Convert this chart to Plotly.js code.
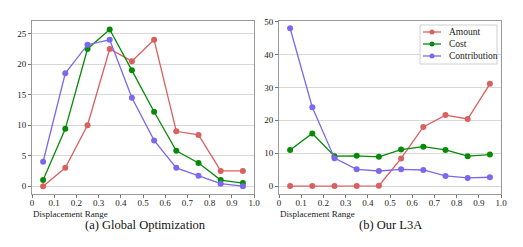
<!DOCTYPE html>
<html><head><meta charset="utf-8">
<script src="https://cdn.plot.ly/plotly-3.0.1.min.js"></script>
<style>html,body{margin:0;padding:0;background:#fff}#c{width:523px;height:247px}</style>
</head><body><div id="c"></div>
<script>
const xVals = [0.05,0.15,0.25,0.35,0.45,0.55,0.65,0.75,0.85,0.95];
const xTickVals = [0,0.1,0.2,0.3,0.4,0.5,0.6,0.7,0.8,0.9,1.0];
const xTickText = ["0","0.1","0.2","0.3","0.4","0.5","0.6","0.7","0.8","0.9","1.0"];
const seriesNames = ["Amount","Cost","Contribution"];
// (a) Global Optimization
const globalAmount = [0,3,10,22.5,20.5,24,9,8.4,2.5,2.5];
const globalCost = [1,9.4,22.5,25.7,19,12.2,5.8,3.8,1,0.5];
const globalContribution = [4,18.5,23.2,24,14.5,7.5,3,1.7,0.4,0];
// (b) Our L3A
const l3aAmount = [0,0,0,0,0.1,8.4,18,21.6,20.4,31.1];
const l3aCost = [11,16,9.1,9.2,8.9,11.1,12,11,9.1,9.6];
const l3aContribution = [48,24,8.5,5.1,4.6,5.1,4.9,3.1,2.5,2.7];
const leftYTicks = [0,5,10,15,20,25];
const rightYTicks = [0,10,20,30,40,50];
const captions = ["(a) Global Optimization","(b) Our L3A"];
const xLabel = "Displacement Range";

const colors = ["#d9605f","#078a07","#7b68ee"];
const serif = "Liberation Serif, Times New Roman, serif";
const W=523,H=247;
const px = v => v/W, py = v => 1-v/H;

function tr(y, i, xa, ya){
  return {x:xVals, y:y, type:'scatter', mode:'lines+markers', name:seriesNames[i],
    xaxis:xa, yaxis:ya, showlegend:false,
    line:{color:colors[i], width:1.3}, marker:{color:colors[i], size:6}};
}
const data = [
  tr(globalAmount,0,'x','y'), tr(globalCost,1,'x','y'), tr(globalContribution,2,'x','y'),
  tr(l3aAmount,0,'x2','y2'), tr(l3aCost,1,'x2','y2'), tr(l3aContribution,2,'x2','y2')
];
const axBase = {showline:true, mirror:true, linecolor:'#999', linewidth:1, ticks:'outside', ticklen:3, tickcolor:'#777',
  tickfont:{family:serif,size:9,color:'#222'}, zeroline:false};
const xa = Object.assign({}, axBase, {range:[0,1], tickvals:xTickVals, ticktext:xTickText, showgrid:false, ticklabelstandoff:-3});
const yb = Object.assign({}, axBase, {showgrid:true, gridcolor:'#d8d8d8', gridwidth:1});

// manual legend (panel b)
const shapes = [{type:'rect', xref:'paper', yref:'paper', x0:px(420), x1:px(497), y0:py(64), y1:py(25),
  line:{color:'#d0d0d0', width:1}, fillcolor:'rgba(255,255,255,0.9)', layer:'above'}];
const annotations = [];
const rowsY = [32, 44, 56];
seriesNames.forEach((n,i)=>{
  const yy = rowsY[i];
  shapes.push({type:'line', xref:'paper', yref:'paper', x0:px(423), x1:px(441), y0:py(yy), y1:py(yy), line:{color:colors[i], width:1.3}, layer:'above'});
  shapes.push({type:'circle', xref:'paper', yref:'paper', x0:px(429.5), x1:px(434.5), y0:py(yy+2.5), y1:py(yy-2.5), line:{color:colors[i], width:0}, fillcolor:colors[i], layer:'above'});
  annotations.push({text:n, xref:'paper', yref:'paper', x:px(447), y:py(yy), xanchor:'left', yanchor:'middle', showarrow:false, font:{family:serif,size:9.5,color:'#222'}});
});
annotations.push(
  {text:xLabel, xref:'paper', yref:'paper', x:px(31), y:py(206.5), xanchor:'left', yanchor:'top', showarrow:false, font:{family:serif,size:9,color:'#222'}},
  {text:xLabel, xref:'paper', yref:'paper', x:px(278), y:py(206.5), xanchor:'left', yanchor:'top', showarrow:false, font:{family:serif,size:9,color:'#222'}},
  {text:captions[0], xref:'paper', yref:'paper', x:px(145), y:py(216), xanchor:'center', yanchor:'top', showarrow:false, font:{family:serif,size:12.5,color:'#111'}},
  {text:captions[1], xref:'paper', yref:'paper', x:px(390), y:py(216), xanchor:'center', yanchor:'top', showarrow:false, font:{family:serif,size:12.5,color:'#111'}}
);
const layout = {
  width:W, height:H, margin:{l:0,r:0,t:0,b:0}, paper_bgcolor:'#fff', plot_bgcolor:'#fff',
  xaxis:Object.assign({}, xa, {domain:[px(32),px(254)], anchor:'y'}),
  xaxis2:Object.assign({}, xa, {domain:[px(279),px(501)], anchor:'y2'}),
  yaxis:Object.assign({}, yb, {domain:[py(194),py(21)], range:[-1.29,27.09], tickvals:leftYTicks, anchor:'x'}),
  yaxis2:Object.assign({}, yb, {domain:[py(194),py(21)], range:[-2.4,50.2], tickvals:rightYTicks, anchor:'x2'}),
  showlegend:false, shapes:shapes, annotations:annotations
};
Plotly.newPlot('c', data, layout, {displayModeBar:false, staticPlot:true});
</script></body></html>
